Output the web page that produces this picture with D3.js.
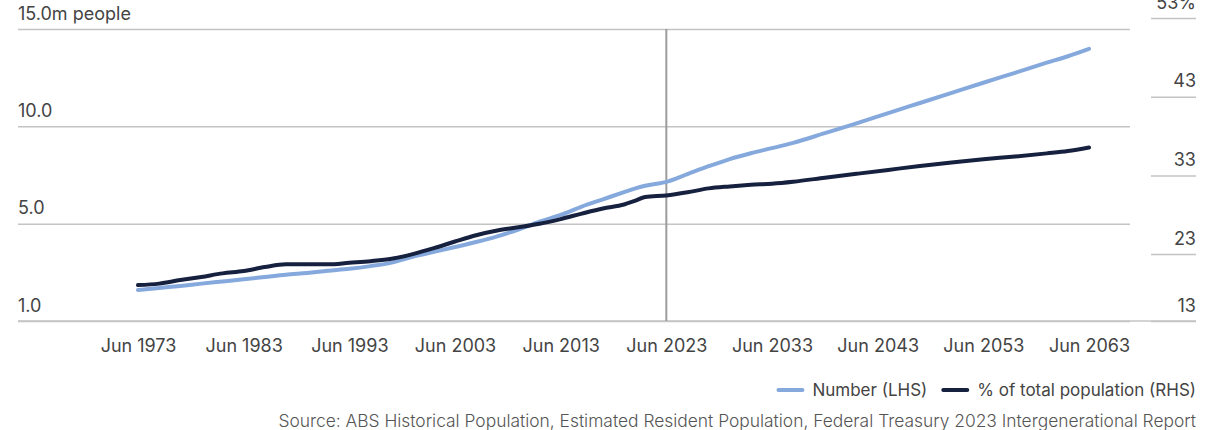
<!DOCTYPE html>
<html>
<head>
<meta charset="utf-8">
<script src="https://cdn.jsdelivr.net/npm/d3@7"></script>
<style>
  html, body { margin: 0; padding: 0; background: #fff; }
  svg { display: block; font-family: Inter, "Noto Sans", sans-serif; }
</style>
</head>
<body>
<svg id="chart" width="1222" height="430"></svg>
<script>
// Population figures, Jun years
const years = [1973, 1975, 1977, 1979, 1981, 1983, 1985, 1987, 1989, 1991, 1993, 1995, 1997, 1999,
  2001, 2003, 2005, 2007, 2009, 2011, 2013, 2015, 2017, 2019, 2020, 2021, 2023, 2025, 2027, 2029,
  2031, 2033, 2035, 2038, 2041, 2044, 2047, 2050, 2053, 2056, 2059, 2061, 2063];

// Number of people (millions, left axis)
const numberLHS = [1.59, 1.70, 1.80, 1.92, 2.03, 2.14, 2.26, 2.38, 2.47, 2.58, 2.68, 2.82, 3.00, 3.30,
  3.55, 3.80, 4.06, 4.35, 4.70, 5.10, 5.45, 5.88, 6.25, 6.62, 6.80, 6.95, 7.15, 7.55, 7.95, 8.32,
  8.62, 8.88, 9.15, 9.65, 10.15, 10.68, 11.20, 11.72, 12.24, 12.75, 13.27, 13.60, 13.98];

// Share of total population (%, right axis)
const shareRHS = [19.06, 19.25, 19.70, 20.10, 20.55, 20.85, 21.35, 21.70, 21.70, 21.70, 21.90, 22.10, 22.40, 23.00,
  23.75, 24.60, 25.40, 26.00, 26.40, 26.85, 27.45, 28.15, 28.80, 29.30, 29.75, 30.25, 30.45, 30.85, 31.35, 31.60,
  31.80, 31.95, 32.20, 32.70, 33.20, 33.70, 34.20, 34.65, 35.05, 35.40, 35.80, 36.10, 36.55];

const xTickYears = [1973, 1983, 1993, 2003, 2013, 2023, 2033, 2043, 2053, 2063];
const xTickLabels = ["Jun 1973", "Jun 1983", "Jun 1993", "Jun 2003", "Jun 2013", "Jun 2023", "Jun 2033", "Jun 2043", "Jun 2053", "Jun 2063"];
const leftTicks = [0, 5, 10, 15];
const leftTickLabels = ["1.0", "5.0", "10.0", "15.0m people"];
const rightTicks = [14.5, 23, 33, 43, 53];
const rightTickLabels = ["13", "23", "33", "43", "53%"];
const markerYear = 2023;

const seriesNames = ["Number (LHS)", "% of total population (RHS)"];
const colors = { number: "#85a9dd", share: "#16213f" };
const textColor = "#444";
const gridColor = "#c4c4c4";

const svg = d3.select("#chart");

const plotLeft = 18, plotRight = 1196, gridRight = 1130;
const plotTop = 29, plotBottom = 321;

const x = d3.scaleLinear().domain([1973, 2063]).range([138, 1089]);
const yL = d3.scaleLinear().domain([0, 15]).range([plotBottom, plotTop]);
const yR = d3.scaleLinear().domain([14.5, 53]).range([plotBottom, 18]);

// Left axis: gridlines across the plot, labels sitting above each line
const gLeft = svg.append("g")
  .attr("transform", `translate(${plotLeft},0)`)
  .call(d3.axisRight(yL).tickValues(leftTicks).tickSize(gridRight - plotLeft)
    .tickFormat((d, i) => leftTickLabels[i]));
gLeft.select(".domain").remove();
gLeft.selectAll(".tick line").attr("stroke", gridColor).attr("stroke-width", 1.5);
gLeft.selectAll(".tick text")
  .attr("x", 0).attr("dy", null).attr("y", -10)
  .attr("text-anchor", "start")
  .attr("fill", textColor).style("font-size", "18px").style("font-family", "Inter, sans-serif");

// Right axis: short tick rules with labels above
const gRight = svg.append("g")
  .attr("transform", `translate(${plotRight},0)`)
  .call(d3.axisLeft(yR).tickValues(rightTicks).tickSize(45)
    .tickFormat((d, i) => rightTickLabels[i]));
gRight.select(".domain").remove();
gRight.selectAll(".tick line").attr("stroke", gridColor).attr("stroke-width", 1.5);
gRight.selectAll(".tick text")
  .attr("x", 0).attr("dy", null).attr("y", -10)
  .attr("text-anchor", "end")
  .attr("fill", textColor).style("font-size", "18px").style("font-family", "Inter, sans-serif");

// Baseline
svg.append("line")
  .attr("x1", plotLeft).attr("x2", plotRight)
  .attr("y1", plotBottom).attr("y2", plotBottom)
  .attr("stroke", gridColor).attr("stroke-width", 1.5);

// Bottom axis labels
const gX = svg.append("g")
  .attr("transform", `translate(0,${plotBottom})`)
  .call(d3.axisBottom(x).tickValues(xTickYears).tickSize(0).tickPadding(18)
    .tickFormat((d, i) => xTickLabels[i]));
gX.select(".domain").remove();
gX.selectAll(".tick text")
  .attr("fill", textColor).style("font-size", "18px").style("font-family", "Inter, sans-serif");

// Vertical rule marking the start of projections
svg.append("line")
  .attr("x1", x(markerYear)).attr("x2", x(markerYear))
  .attr("y1", plotTop).attr("y2", plotBottom)
  .attr("stroke", "#9c9c9c").attr("stroke-width", 2);

const idx = d3.range(years.length);

const lineNumber = d3.line()
  .x(i => x(years[i])).y(i => yL(numberLHS[i]))
  .curve(d3.curveMonotoneX);
const lineShare = d3.line()
  .x(i => x(years[i])).y(i => yR(shareRHS[i]))
  .curve(d3.curveMonotoneX);

svg.append("path").datum(idx)
  .attr("d", lineNumber)
  .attr("fill", "none").attr("stroke", colors.number)
  .attr("stroke-width", 4).attr("stroke-linecap", "round").attr("stroke-linejoin", "round");

svg.append("path").datum(idx)
  .attr("d", lineShare)
  .attr("fill", "none").attr("stroke", colors.share)
  .attr("stroke-width", 4).attr("stroke-linecap", "round").attr("stroke-linejoin", "round");

// Legend (right-aligned)
const legendY = 390;
const legend = svg.append("g").attr("class", "legend");
const items = [
  { name: seriesNames[0], color: colors.number },
  { name: seriesNames[1], color: colors.share }
];
let cursor = plotRight;
for (let k = items.length - 1; k >= 0; k--) {
  const it = items[k];
  const t = legend.append("text")
    .attr("y", legendY).attr("dy", "0.35em")
    .attr("text-anchor", "end")
    .attr("fill", textColor)
    .style("font-size", "17px")
    .text(it.name);
  t.attr("x", cursor);
  const w = t.node().getComputedTextLength();
  const swEnd = cursor - w - 10;
  legend.append("line")
    .attr("x1", swEnd - 24).attr("x2", swEnd)
    .attr("y1", legendY).attr("y2", legendY)
    .attr("stroke", it.color).attr("stroke-width", 4).attr("stroke-linecap", "round");
  cursor = swEnd - 24 - 16;
}

// Source note
svg.append("text")
  .attr("x", plotRight).attr("y", 421).attr("dy", "0.35em")
  .attr("text-anchor", "end")
  .attr("fill", "#555")
  .style("font-size", "17.4px").style("font-weight", 300)
  .text("Source: ABS Historical Population, Estimated Resident Population, Federal Treasury 2023 Intergenerational Report");
</script>
</body>
</html>
